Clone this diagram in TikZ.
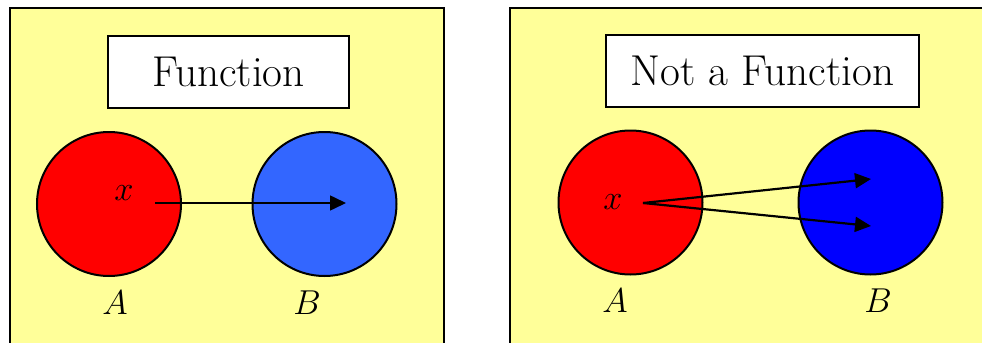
\documentclass[tikz,border=0pt]{standalone}
\usepackage{amsmath}
\usepackage{tikz}
\usetikzlibrary{positioning,arrows.meta}
\usepackage{xcolor}
\definecolor{paneyellow}{HTML}{FFFF99}
\definecolor{setblue}{HTML}{3366FF}

\begin{document}
\begin{tikzpicture}[
  x=0.5pt, y=-0.5pt,
  node distance=5.5pt,
  pane/.style={draw, line width=1pt, fill=paneyellow},
  title/.style={draw, line width=1pt, fill=white, minimum height=36pt, font=\fontsize{21.6}{25}\selectfont},
  set/.style={circle, draw, line width=1pt, minimum size=72pt, inner sep=0pt},
  lbl/.style={font=\fontsize{17}{20}\selectfont, inner sep=1pt},
  arrow/.style={-{Triangle[length=8pt, width=7.5pt]}, line width=0.8pt}
]
\useasboundingbox (0,0) rectangle (982,343);
\clip (0,0) rectangle (982,343);
% left pane
\draw[pane] (10,8) rectangle (444,360);
\node[title, minimum width=120.5pt] (fun) at (228.5,72) {Function};
\node[set, fill=red] (setA) at (109,204) {};
\node[set, fill=setblue] (setB) at (324.5,204) {};
\node[lbl] (x) at (124,193) {$x$};
\node[lbl, below=of setA, xshift=3pt] (A) {$A$};
\node[lbl, below=of setB, xshift=-8.75pt] (B) {$B$};
\coordinate (xs) at (155,203);
\coordinate (y) at (346,203);
\draw[arrow] (xs) -- (y);
% right pane
\draw[pane] (510,8) rectangle (1000,360);
\node[title, minimum width=156.5pt, inner xsep=0pt] (notfun) at (762.5,70.5) {Not a Function\hspace{5.5pt}};
\node[set, fill=red] (setA2) at (630.5,202.5) {};
\node[set, fill=blue] (setB2) at (870.5,202.5) {};
\node[lbl] (x2) at (613,202) {$x$};
\node[lbl, below=of setA2, xshift=-7.75pt] (A2) {$A$};
\node[lbl, below=of setB2, xshift=3.75pt] (B2) {$B$};
\coordinate (xs2) at (643,203);
\coordinate (y1) at (871,179);
\coordinate (y2) at (871,226);
\draw[arrow, line width=1.1pt] (xs2) -- (y1);
\draw[arrow, line width=1.1pt] (xs2) -- (y2);
\end{tikzpicture}
\end{document}
